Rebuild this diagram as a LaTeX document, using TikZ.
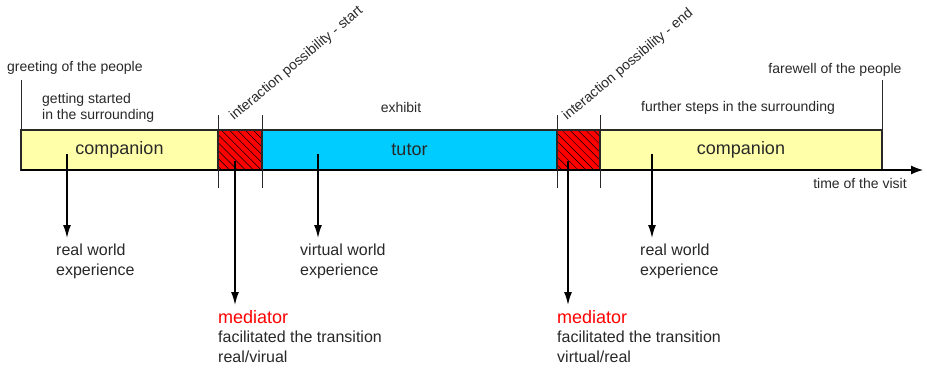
\documentclass[tikz,border=0pt]{standalone}
\usepackage{fontspec}
\setmainfont{Liberation Sans}
\usetikzlibrary{calc,positioning,arrows.meta,patterns.meta}
\definecolor{compyellow}{RGB}{255,255,170}
\definecolor{tutorblue}{RGB}{0,204,255}
\definecolor{inkgray}{RGB}{40,40,40}
\tikzset{
  >={Latex[length=13pt,width=8pt]},
  segment/.style={
    rectangle,
    draw=inkgray, line width=1.1pt,
    minimum height=40pt,
    inner sep=0pt, outer sep=0pt,
    font=\fontsize{18}{20}\selectfont,
    text=inkgray},
  companion/.style={segment, fill=compyellow},
  tutorbox/.style={segment, fill=tutorblue},
  mediatorbox/.style={
    segment,
    preaction={fill=red},
    pattern={Lines[angle=-45,distance=5.6pt,line width=0.5pt]},
    pattern color=black},
  note/.style={font=\fontsize{14}{16.5}\selectfont, text=inkgray, inner sep=0pt},
  outcome/.style={font=\fontsize{16}{19.5}\selectfont, text=inkgray,
    inner sep=0pt, align=left, anchor=north west},
  pointer/.style={draw, line width=1.6pt, ->},
  tick/.style={draw=inkgray, line width=0.8pt},
  axis/.style={draw=black, line width=1.1pt, -{Latex[length=12pt,width=9pt]}}
}
\begin{document}
\begin{tikzpicture}[x=1pt,y=-1pt]
  \useasboundingbox (0,0) rectangle (927,368);

  % the visit, piece by piece
  \node[companion, minimum width=197pt, anchor=north west] (comp1) at (21,130) {companion};
  \node[mediatorbox, minimum width=44pt, right=0pt of comp1] (mstart) {};
  \node[tutorbox, minimum width=295pt, right=0pt of mstart] (tutor) {tutor};
  \node[mediatorbox, minimum width=43pt, right=0pt of tutor] (mend) {};
  \node[companion, minimum width=282pt, right=0pt of mend] (comp2) {companion};

  % time axis
  \coordinate (tend) at (923,170);
  \draw[axis] (comp1.south west) -- (tend);
  \draw[tick] (comp1.north west) -- ++(0,-50);
  \draw[tick] (comp2.north east) -- ++(0,-50);
  \foreach \n in {mstart,mend} {
    \draw[tick] (\n.north west) ++(0,-15) -- ++(0,73);
    \draw[tick] (\n.north east) ++(0,-15) -- ++(0,73);
  }

  % labels above the bar
  \node[note, anchor=base west] (greet) at (7,71) {greeting of the people};
  \node[note, align=left, anchor=north west] (settle) at (42,92.8) {getting started\\in the surrounding};
  \node[note, anchor=base] (exhibit) at (401,112) {exhibit};
  \node[note, anchor=base] (further) at (738,111) {further steps in the surrounding};
  \node[note, anchor=base] (farewell) at (835,73) {farewell of the people};
  \node[note, anchor=base] (visit) at (860,188) {time of the visit};
  \node[note, rotate=40, anchor=base west] (istart) at (234,121) {interaction possibility - start};
  \node[note, rotate=40, anchor=base west] (iend) at (567,121) {interaction possibility - end};

  % what the visitor gets
  \node[outcome] (rw1) at (56,244) {real world\\experience};
  \node[outcome] (vw) at (300,244) {virtual world\\experience};
  \node[outcome] (rw2) at (640,244) {real world\\experience};
  \node[outcome] (med1) at (218,310) {{\fontsize{18}{19.5}\selectfont\color{red}mediator}\\facilitated the transition\\real/virual};
  \node[outcome] (med2) at (557,310) {{\fontsize{18}{19.5}\selectfont\color{red}mediator}\\facilitated the transition\\virtual/real};

  \draw[pointer] ($(comp1.north west)+(46,24)$) -- ($(rw1.north west)+(11,-6)$);
  \draw[pointer] ($(mstart.north west)+(17,31)$) -- ($(med1.north west)+(17,-5)$);
  \draw[pointer] ($(tutor.north west)+(56,24)$) -- ($(vw.north west)+(18,-6)$);
  \draw[pointer] ($(mend.north west)+(11,31)$) -- ($(med2.north west)+(11,-5)$);
  \draw[pointer] ($(comp2.north west)+(52,24)$) -- ($(rw2.north west)+(12,-6)$);
\end{tikzpicture}
\end{document}
